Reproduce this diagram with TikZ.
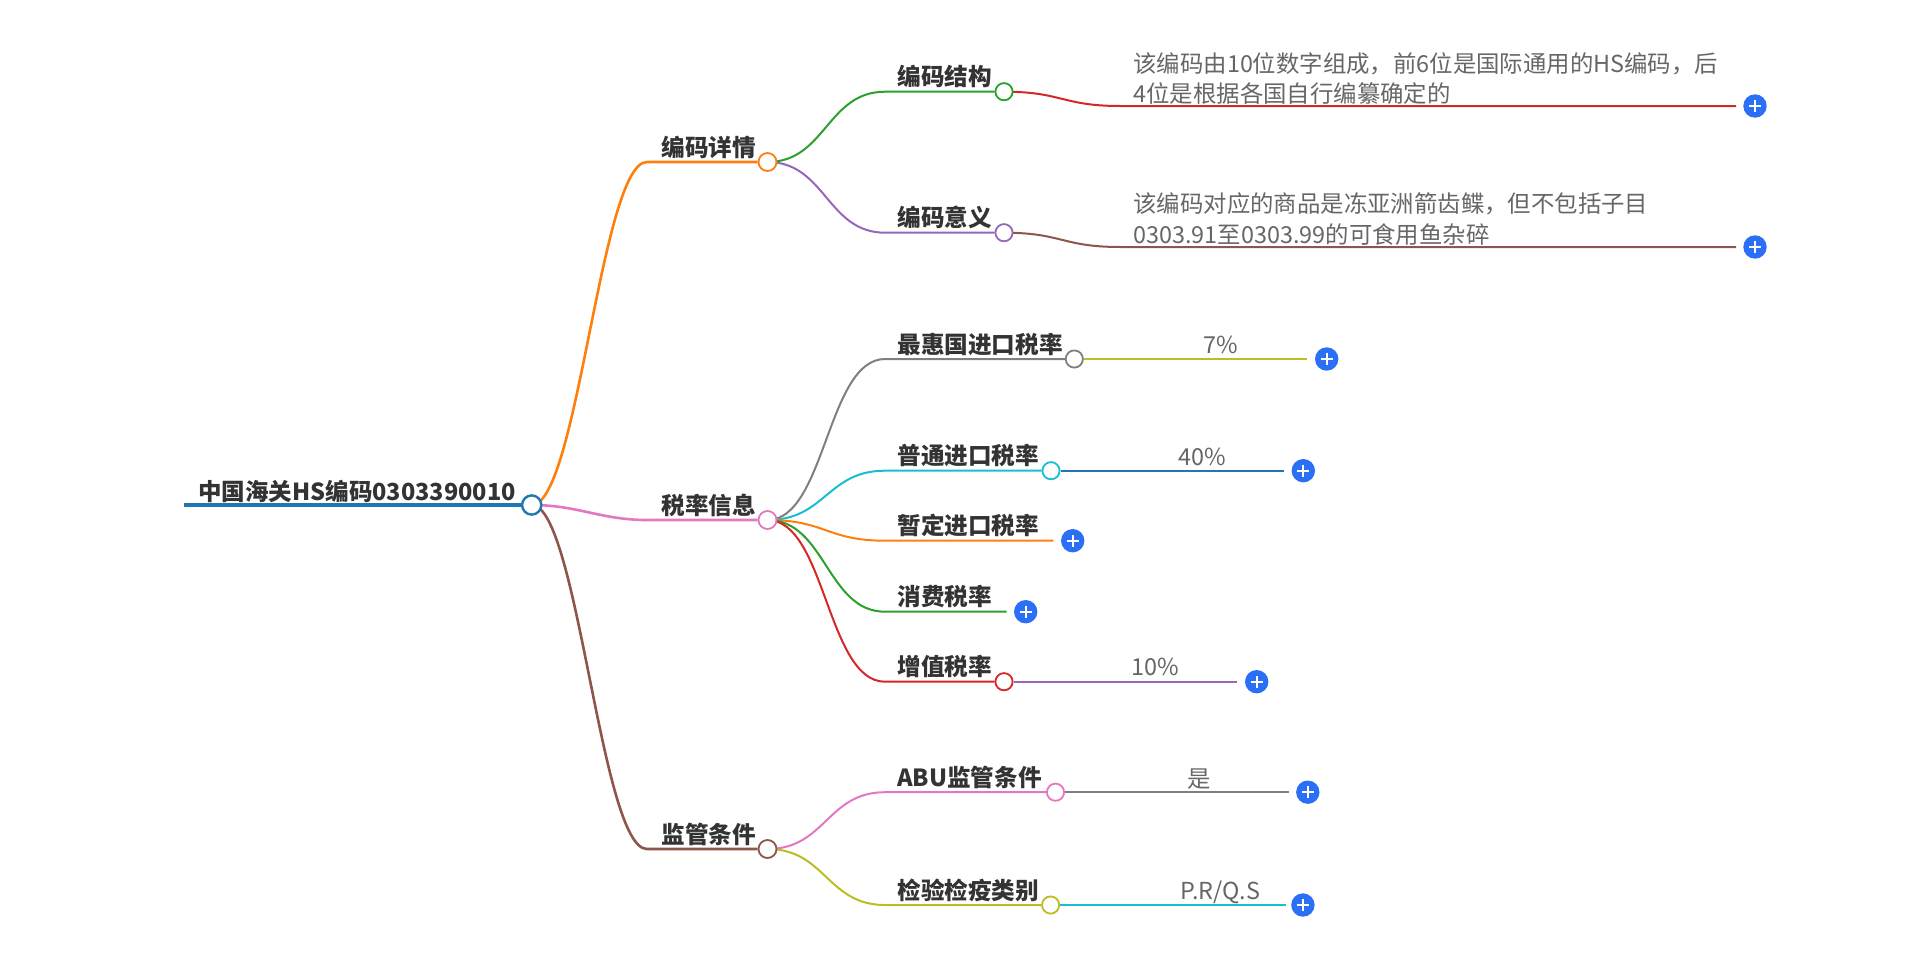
\documentclass[tikz,border=0pt]{standalone}
\usepackage{fontspec}
\setmainfont{Noto Sans CJK SC}
\usetikzlibrary{backgrounds}
\definecolor{cblue}{HTML}{1F77B4}
\definecolor{corange}{HTML}{FF7F0E}
\definecolor{cgreen}{HTML}{2CA02C}
\definecolor{cred}{HTML}{D62728}
\definecolor{cpurple}{HTML}{9467BD}
\definecolor{cbrown}{HTML}{8C564B}
\definecolor{cpink}{HTML}{E377C2}
\definecolor{cgray}{HTML}{7F7F7F}
\definecolor{colive}{HTML}{BCBD22}
\definecolor{ccyan}{HTML}{17BECF}
\definecolor{labgray}{HTML}{333333}
\definecolor{leafgray}{HTML}{666666}
\definecolor{pblue}{HTML}{2B6FF6}
\newcommand{\labfont}{\fontsize{11.8pt}{14pt}\selectfont\bfseries}
\newcommand{\rootfont}{\fontsize{11.75pt}{15pt}\selectfont\bfseries}
\newcommand{\leaffont}{\fontsize{11.7pt}{14pt}\selectfont}
\begin{document}
\begin{tikzpicture}[x=0.5pt, y=-0.5pt,
    lab/.style={anchor=base west, inner sep=0pt, text=labgray, font=\labfont},
    leaf/.style={anchor=base west, inner sep=0pt, text=leafgray, font=\leaffont},
    dot/.style={circle, draw, fill=white, inner sep=0pt, minimum size=8.6pt, line width=0.9pt},
    plusbtn/.style={circle, fill=pblue, inner sep=0pt, minimum size=11.7pt,
        path picture={\draw[white, line width=1.1pt]
            ([xshift=-3pt]path picture bounding box.center) -- ([xshift=3pt]path picture bounding box.center)
            ([yshift=-3pt]path picture bounding box.center) -- ([yshift=3pt]path picture bounding box.center);}},
    lvone/.style={line width=1.3pt},
    lvtwo/.style={line width=1pt}]
\useasboundingbox (0,0) rectangle (1920,953);

% root
\coordinate (rootL) at (184,505);
\node[dot, draw=cblue, line width=1.2pt, minimum size=9.6pt] (root) at (531.7,505) {};
\node[lab, font=\rootfont] (roott) at (198,500) {中国海关HS编码0303390010};

% first level
\node[dot, draw=corange, minimum size=9pt] (n1) at (767.5,162) {};
\node[dot, draw=cpink, minimum size=9pt] (n2) at (767.5,520) {};
\node[dot, draw=cbrown, minimum size=9pt] (n3) at (767.5,849) {};
\node[lab] (n1t) at (661,156) {编码详情};
\node[lab] (n2t) at (661,514) {税率信息};
\node[lab] (n3t) at (661,843) {监管条件};
\coordinate (j1) at (647,162);
\coordinate (j2) at (647,520);
\coordinate (j3) at (647,849);

% second level
\node[dot, draw=cgreen] (s1) at (1004,91.7) {};
\node[dot, draw=cpurple] (s2) at (1004,232.7) {};
\node[dot, draw=cgray] (s3) at (1074.3,359) {};
\node[dot, draw=ccyan] (s4) at (1051,470.7) {};
\node[dot, draw=cred] (s7) at (1004,681.7) {};
\node[dot, draw=cpink] (s8) at (1055.5,792.2) {};
\node[dot, draw=colive] (s9) at (1050.6,905) {};
\node[lab] (s1t) at (897,85.7) {编码结构};
\node[lab] (s2t) at (897,226.7) {编码意义};
\node[lab] (s3t) at (897,353) {最惠国进口税率};
\node[lab] (s4t) at (897,464.7) {普通进口税率};
\node[lab] (s5t) at (897,534.7) {暂定进口税率};
\node[lab] (s6t) at (897,605.7) {消费税率};
\node[lab] (s7t) at (897,675.7) {增值税率};
\node[lab] (s8t) at (897,786.2) {ABU监管条件};
\node[lab] (s9t) at (897,899) {检验检疫类别};
\coordinate (k1) at (885,91.7);
\coordinate (k2) at (885,232.7);
\coordinate (k3) at (885,359);
\coordinate (k4) at (885,470.7);
\coordinate (k5) at (885,540.7);
\coordinate (k6) at (885,611.7);
\coordinate (k7) at (885,681.7);
\coordinate (k8) at (885,792.2);
\coordinate (k9) at (885,905);

% leaves
\coordinate (l1) at (1120,106);
\coordinate (l1e) at (1736,106);
\coordinate (l2) at (1120,247);
\coordinate (l2e) at (1736,247);
\coordinate (l3e) at (1307.3,359);
\coordinate (l4e) at (1284.3,470.7);
\coordinate (l5e) at (1053.3,540.7);
\coordinate (l6e) at (1006.7,611.7);
\coordinate (l7e) at (1237.3,681.7);
\coordinate (l8e) at (1289.4,792.2);
\coordinate (l9e) at (1285.7,905);
\node[leaf] (d1a) at (1133,72) {该编码由10位数字组成，前6位是国际通用的HS编码，后};
\node[leaf] (d1b) at (1133,102) {4位是根据各国自行编纂确定的};
\node[leaf] (d2a) at (1133,212) {该编码对应的商品是冻亚洲箭齿鲽，但不包括子目};
\node[leaf] (d2b) at (1133,243) {0303.91至0303.99的可食用鱼杂碎};
\node[leaf] (v3) at (1203,353) {7\%};
\node[leaf] (v4) at (1178,465) {40\%};
\node[leaf] (v7) at (1131,675) {10\%};
\node[leaf] (v8) at (1187,787) {是};
\node[leaf] (v9) at (1180,899) {P.R/Q.S};
\node[plusbtn] (p1) at (1755,106) {};
\node[plusbtn] (p2) at (1755,247) {};
\node[plusbtn] (p3) at (1326.7,359) {};
\node[plusbtn] (p4) at (1303.3,470.7) {};
\node[plusbtn] (p5) at (1072.7,540.7) {};
\node[plusbtn] (p6) at (1025.7,611.7) {};
\node[plusbtn] (p7) at (1256.7,681.7) {};
\node[plusbtn] (p8) at (1307.8,792.2) {};
\node[plusbtn] (p9) at (1302.9,905) {};

\begin{scope}[on background layer]
    \draw[cblue, line width=2.3pt] (rootL) -- (root);
    \draw[corange, lvone] (root.center) .. controls +(46,0) and +(-46,0) .. (j1) -- (n1);
    \draw[cpink, lvone] (root.center) .. controls +(46,0) and +(-46,0) .. (j2) -- (n2);
    \draw[cbrown, lvone] (root.center) .. controls +(46,0) and +(-46,0) .. (j3) -- (n3);

    \draw[cgreen, lvtwo] (n1.center) .. controls +(58,0) and +(-58,0) .. (k1) -- (s1);
    \draw[cpurple, lvtwo] (n1.center) .. controls +(58,0) and +(-58,0) .. (k2) -- (s2);
    \draw[cgray, lvtwo] (n2.center) .. controls +(58,0) and +(-58,0) .. (k3) -- (s3);
    \draw[ccyan, lvtwo] (n2.center) .. controls +(58,0) and +(-58,0) .. (k4) -- (s4);
    \draw[corange, lvtwo] (n2.center) .. controls +(58,0) and +(-58,0) .. (k5) -- (l5e);
    \draw[cgreen, lvtwo] (n2.center) .. controls +(58,0) and +(-58,0) .. (k6) -- (l6e);
    \draw[cred, lvtwo] (n2.center) .. controls +(58,0) and +(-58,0) .. (k7) -- (s7);
    \draw[cpink, lvtwo] (n3.center) .. controls +(58,0) and +(-58,0) .. (k8) -- (s8);
    \draw[colive, lvtwo] (n3.center) .. controls +(58,0) and +(-58,0) .. (k9) -- (s9);

    \draw[cred, lvtwo] (s1.center) .. controls +(58,0) and +(-58,0) .. (l1) -- (l1e);
    \draw[cbrown, lvtwo] (s2.center) .. controls +(58,0) and +(-58,0) .. (l2) -- (l2e);
    \draw[colive, lvtwo] (s3) -- (l3e);
    \draw[cblue, lvtwo] (s4) -- (l4e);
    \draw[cpurple, lvtwo] (s7) -- (l7e);
    \draw[cgray, lvtwo] (s8) -- (l8e);
    \draw[ccyan, lvtwo] (s9) -- (l9e);
\end{scope}
\end{tikzpicture}
\end{document}
